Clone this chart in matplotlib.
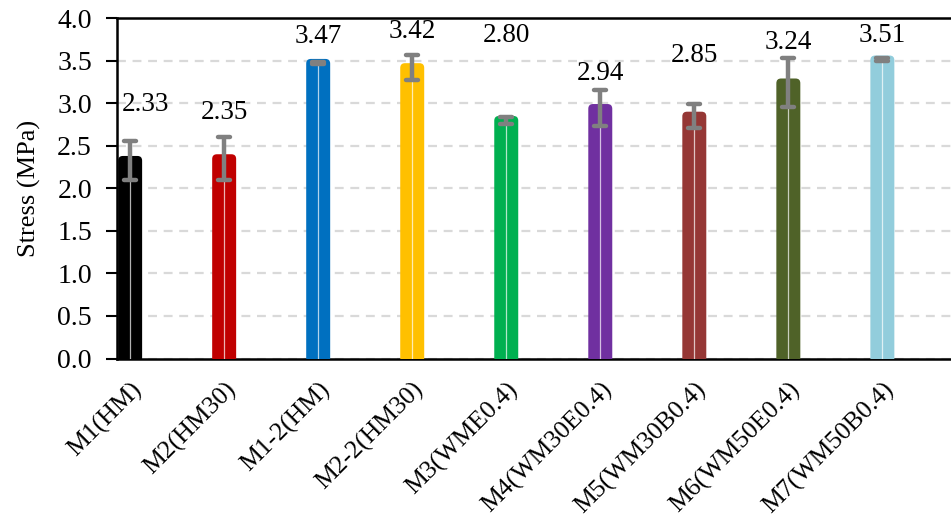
import matplotlib
matplotlib.use("Agg")
import matplotlib.pyplot as plt
from matplotlib.patches import FancyBboxPatch
from matplotlib.markers import MarkerStyle
import numpy as np

# data
samples = ["M1(HM)", "M2(HM30)", "M1-2(HM)", "M2-2(HM30)", "M3(WME0.4)",
           "M4(WM30E0.4)", "M5(WM30B0.4)", "M6(WM50E0.4)", "M7(WM50B0.4)"]
stress = [2.33, 2.35, 3.47, 3.42, 2.80, 2.94, 2.85, 3.24, 3.51]
stress_err = [0.23, 0.25, 0.01, 0.15, 0.04, 0.21, 0.145, 0.29, 0.02]
colors = ["#000000", "#C00000", "#0070C0", "#FFC000", "#00B050",
          "#7030A0", "#953735", "#4F6228", "#92CDDC"]
# where the value labels sit (moved by hand in the original)
label_y = [2.98, 2.89, 3.78, 3.84, 3.80, 3.35, 3.565, 3.71, 3.80]
label_dx = [0.16, 0, 0, 0, 0, 0, 0, 0, 0]

plt.rcParams["font.family"] = ["Liberation Serif", "DejaVu Serif"]

fig = plt.figure(figsize=(9.51, 5.23), dpi=100)
ax = fig.add_axes([0.123, 0.3145, 0.877, 0.651])

x = np.arange(len(samples))
ax.set_xlim(-0.14, 8.73)
ax.set_ylim(0, 4.0)

# bars with rounded corners
pad = 0.045
aspect = 94 / 85
bars = ax.bar(x, stress, width=0.165, color=colors, zorder=3)
for b, c in zip(bars, colors):
    b.set_visible(False)
    box = FancyBboxPatch((b.get_x(), b.get_y()), b.get_width(), b.get_height(),
                         boxstyle=f"round,pad={pad},rounding_size=0.05",
                         mutation_aspect=aspect, facecolor=c, edgecolor="none",
                         zorder=3)
    ax.add_patch(box)

# thin white line inside each bar
lower = np.array(stress) - np.array(stress_err)
ax.vlines(x, 0, lower, color="white", lw=0.9, alpha=0.7, zorder=4)

eb = ax.errorbar(x, stress, yerr=stress_err, fmt="none", ecolor="#808080",
                 elinewidth=3.2, capsize=4.6, capthick=3.2, zorder=5)
for cl in eb[1]:
    cl.set_marker(MarkerStyle("_", capstyle="round"))

for xi, v, ly, dx in zip(x, stress, label_y, label_dx):
    ax.text(xi + dx, ly, f"{v:.2f}", ha="center", va="center", fontsize=19.5,
            zorder=6)

ax.set_yticks(np.arange(0, 4.01, 0.5))
ax.set_yticklabels([f"{t:.1f}" for t in np.arange(0, 4.01, 0.5)], fontsize=20)
ax.set_ylabel("Stress (MPa)", fontsize=19, labelpad=12)
ax.set_xticks(x)
ax.set_xticklabels(samples, rotation=45, ha="right", rotation_mode="anchor",
                   fontsize=18.5)
ax.tick_params(axis="x", length=0, pad=14)
ax.tick_params(axis="y", length=8, width=1.5, direction="out", pad=10)

ax.yaxis.grid(True, linestyle=(0, (4, 3)), color="#D9D9D9", lw=1.6, zorder=0)
ax.set_axisbelow(True)
for s in ["left", "bottom", "top"]:
    ax.spines[s].set_linewidth(1.8)
    ax.spines[s].set_color("black")
ax.spines["right"].set_visible(False)

fig.savefig("out.png", dpi=100)
